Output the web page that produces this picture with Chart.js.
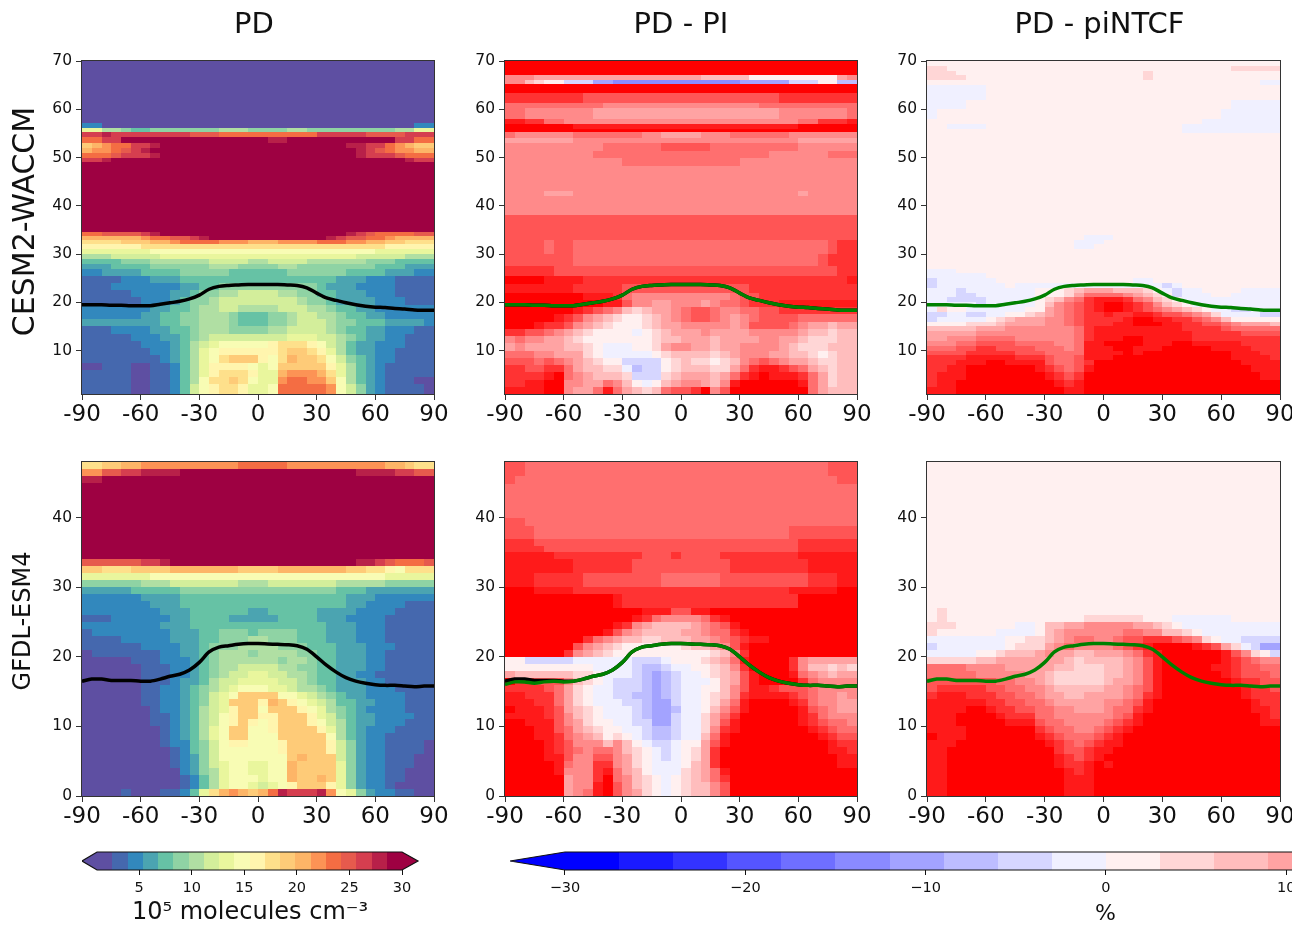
<!DOCTYPE html>
<html>
<head>
<meta charset="utf-8">
<script src="https://cdn.jsdelivr.net/npm/chart.js@4"></script>
<style>
  html, body { margin: 0; background: #fff; width: 1292px; height: 929px; overflow: hidden; position: relative; }
  canvas { position: absolute; filter: blur(0.4px); }
</style>
</head>
<body>
<script>
// latitude cell edges, every panel has 36 cells (5 degrees wide)
const latEdges = [-90,-85,-80,-75,-70,-65,-60,-55,-50,-45,-40,-35,-30,-25,-20,-15,-10,-5,0,5,10,15,20,25,30,35,40,45,50,55,60,65,70,75,80,85,90];
const xTickValues = [-90,-60,-30,0,30,60,90];
const yTicksWaccm = [10,20,30,40,50,60,70];
const yTicksGfdl = [0,10,20,30,40];

// tropopause height (km) on latEdges
const tropWaccm = [19.5,19.5,19.5,19.4,19.4,19.3,19.3,19.3,19.6,19.9,20.2,20.7,21.5,22.7,23.3,23.5,23.6,23.7,23.7,23.7,23.7,23.6,23.5,23,21.9,20.9,20.4,19.9,19.5,19.2,19,18.9,18.7,18.6,18.4,18.35,18.35];
const tropGfdl = [16.5,16.8,16.8,16.6,16.6,16.6,16.5,16.5,16.8,17.2,17.5,18.1,19.2,20.7,21.4,21.6,21.8,21.9,21.9,21.85,21.8,21.75,21.6,21.1,20,18.8,17.8,17,16.5,16.2,16,15.9,15.9,15.8,15.7,15.8,15.8];
const tropGfdlPi = [16,16.4,16.4,16.2,16.4,16.5,16.4,16.5,16.8,17.2,17.5,18.1,19.2,20.7,21.4,21.6,21.8,21.9,21.9,21.85,21.8,21.75,21.6,21.1,20,18.8,17.8,17,16.5,16.2,16,15.9,15.9,15.8,15.7,15.8,15.8];

// colorbar classes
const pdBounds = [1,2.45,3.9,5.35,6.8,8.25,9.7,11.15,12.6,14.05,15.5,16.95,18.4,19.85,21.3,22.75,24.2,25.65,27.1,28.55,30];
const pdColors = ['#5e4fa2','#4568ae','#3288bd','#4ba4b1','#66c2a5','#8fd3a4','#b0dfa3','#d3ee9b','#e9f69d','#f8fcb4','#fff5ae','#fee08b','#fecb78','#fdb567','#fc9355','#f46d43','#e65a4d','#d53e4f','#b82049','#9e0142'];
const pdMids = [2,3,5,6,8,9,10,12,13,15,16,18,19,21,22,24,25,27,28,30];
const pdBarTicks = [5,10,15,20,25,30];
const pctBounds = [-30,-27,-24,-21,-18,-15,-12,-9,-6,-3,0,3,6,9,12,15,18,21,24,27,30];
const pctColors = ['#0000ff','#1a1aff','#3333ff','#5555ff','#6f6fff','#8a8aff','#a3a3ff','#bdbdff','#d6d6ff','#f0f0ff','#fff0f0','#ffd6d6','#ffbdbd','#ffa3a3','#ff8a8a','#ff6f6f','#ff5555','#ff3333','#ff1a1a','#ff0000'];
const pctMids = [-28,-25,-22,-19,-16,-13,-10,-7,-4,-1,1,4,7,10,13,16,19,22,25,28];
const pctBarTicks = [-30,-20,-10,0,10,20,30];

// CESM2-WACCM, PD, 10^5 molecules cm-3, top row first
const waccmPdLevels = [70,57.1,56.2,55.2,54.2,53,52,51,50,49,34.5,33.7,33,32,31,30,29,28,27,25.5,24,22.5,21,19.5,18,16.5,15,13.5,12,10.5,9,7.5,6,4.5,3,1];
const waccmPd = [
[2,2,2,2,2,2,2,2,2,2,2,2, 2,2,2,2,2,2,2,2,2,2,2,2, 2,2,2,2,2,2,2,2,2,2,2,2],
[5,5,2,2,2,2,2,2,2,2,2,2, 2,2,2,2,2,2,2,2,2,2,2,2, 2,2,2,2,2,2,2,2,2,2,5,5],
[13,13,10,10,9,8,8,9,9,9,9,9, 9,9,10,10,10,9,9,9,9,10,10,9, 9,9,9,9,9,9,9,9,10,10,13,13],
[27,27,28,27,27,27,27,27,27,27,27,25, 25,25,24,24,24,24,24,24,24,24,24,24, 27,27,27,27,27,25,25,25,25,27,27,27],
[24,24,27,27,30,30,30,30,30,30,30,30, 30,30,30,30,30,30,30,28,28,30,30,30, 30,30,30,30,30,30,30,30,27,27,24,24],
[19,21,22,24,24,27,27,28,30,30,30,30, 30,30,30,30,30,30,30,30,30,30,30,30, 30,30,30,28,28,27,27,24,22,21,19,19],
[21,22,22,24,25,27,28,30,30,30,30,30, 30,30,30,30,30,30,30,30,30,30,30,30, 30,30,30,30,28,27,25,24,22,22,21,21],
[24,24,24,25,27,27,27,28,30,30,30,30, 30,30,30,30,30,30,30,30,30,30,30,30, 30,30,30,30,28,27,27,27,25,24,24,24],
[27,27,28,30,30,30,30,30,30,30,30,30, 30,30,30,30,30,30,30,30,30,30,30,30, 30,30,30,30,30,30,30,30,30,28,27,27],
[30,30,30,30,30,30,30,30,30,30,30,30, 30,30,30,30,30,30,30,30,30,30,30,30, 30,30,30,30,30,30,30,30,30,30,30,30],
[24,24,25,25,25,25,27,28,30,30,30,30, 30,30,30,30,30,30,30,30,30,30,30,30, 30,30,30,28,27,25,24,24,24,24,25,25],
[21,21,21,21,21,21,22,24,24,25,25,27, 28,30,30,30,30,30,30,30,30,30,30,30, 30,28,27,25,25,24,24,22,21,21,21,21],
[18,18,18,18,19,19,19,21,21,22,24,24, 24,24,22,22,22,21,21,21,22,22,22,22, 24,24,24,22,22,21,21,19,19,18,18,18],
[16,16,16,16,16,16,18,18,18,18,18,18, 18,18,18,18,18,18,18,18,18,18,18,18, 18,18,18,18,18,18,18,16,16,16,16,16],
[13,13,13,13,13,13,13,15,15,15,15,15, 15,15,15,15,15,15,15,15,15,15,15,15, 15,15,15,15,15,15,13,13,13,13,13,13],
[10,10,10,12,12,12,12,12,13,13,13,13, 13,13,13,13,13,13,13,13,13,13,13,13, 13,13,13,13,12,12,12,12,12,10,10,10],
[8,8,8,8,9,9,9,10,10,10,10,10, 10,12,12,12,12,10,10,12,12,12,12,10, 10,10,10,10,10,9,9,9,8,8,8,8],
[6,6,6,8,8,8,8,9,9,9,9,9, 9,10,10,10,9,9,9,9,10,10,9,9, 9,9,9,9,9,9,8,8,8,6,6,6],
[5,5,6,6,6,6,8,8,8,8,9,9, 9,9,9,8,8,8,8,8,8,9,9,9, 9,9,9,8,8,8,8,6,6,6,5,5],
[3,3,3,3,5,5,5,6,6,6,8,8, 8,8,8,8,8,8,8,8,8,8,8,8, 8,8,6,6,6,5,5,5,3,3,3,3],
[3,3,3,5,5,5,5,5,5,5,6,6, 8,8,9,9,9,9,9,9,9,9,9,9, 8,6,6,6,5,5,5,5,3,3,3,3],
[3,3,3,3,3,5,5,5,5,6,6,8, 9,9,10,10,12,12,12,12,10,10,9,9, 8,8,6,6,6,5,5,5,3,3,3,3],
[3,3,3,3,3,3,5,5,5,6,8,9, 9,10,12,12,12,12,12,12,12,12,10,9, 9,8,6,6,6,6,5,5,5,3,3,3],
[5,5,5,5,5,5,5,6,6,8,8,9, 10,10,12,12,10,10,10,10,12,12,12,10, 10,9,8,8,6,6,5,5,5,5,5,5],
[5,5,5,5,5,5,6,6,8,8,9,9, 10,10,10,9,8,8,8,9,9,10,12,12, 10,10,9,8,8,6,6,5,5,5,5,5],
[6,6,6,6,6,6,6,6,8,8,9,9, 10,10,10,9,8,8,8,9,9,10,12,12, 12,10,9,9,8,8,8,6,6,6,6,5],
[3,3,3,5,5,5,5,6,6,8,8,9, 10,10,10,9,9,9,9,10,10,12,12,12, 12,10,9,8,8,6,6,5,5,5,3,3],
[3,3,3,3,3,5,5,5,6,6,8,9, 10,12,12,12,12,12,12,12,12,13,13,13, 12,12,10,9,8,6,6,5,5,3,3,3],
[3,3,3,3,3,3,5,5,5,6,8,10, 12,13,15,15,15,15,15,16,18,18,18,16, 15,12,10,8,6,6,5,5,5,3,3,3],
[3,3,3,3,3,3,3,5,5,6,8,10, 13,15,16,16,16,16,16,16,18,19,19,18, 16,13,10,8,6,6,5,5,3,3,3,3],
[3,3,3,3,3,3,3,3,5,6,8,10, 13,15,18,19,19,19,16,15,18,21,19,19, 18,15,12,9,8,6,5,5,3,3,3,3],
[2,2,3,3,3,2,2,3,3,5,8,10, 13,16,16,16,16,15,13,15,19,19,19,19, 19,16,13,10,8,6,5,3,3,3,3,3],
[3,3,3,3,3,2,2,3,3,5,8,10, 13,16,18,18,18,16,13,13,21,22,22,22, 21,18,13,10,8,6,5,3,3,3,3,3],
[3,3,3,3,3,2,2,3,3,5,8,10, 15,18,18,19,18,15,13,13,22,24,24,22, 22,19,15,10,8,6,5,3,3,3,2,2],
[3,3,3,3,3,2,2,3,3,5,8,12, 15,16,18,18,16,13,13,15,24,24,24,24, 24,22,15,12,9,6,5,3,3,3,3,2]
];

// CESM2-WACCM, PD - PI, percent
const waccmPiLevels = [70,67.2,66,65.2,63.3,61.2,60.2,58,57,56,55.2,54,53,51.3,50,48.2,43,42,38,33,30,27.5,25.4,23.7,22,20.5,19,17.5,16,14.5,13,11.5,10,8.5,7,5.5,4,2.5,1];
const waccmPi = [
[28,28,28,28,28,28,28,28,28,28,28,28, 28,28,28,28,28,28,28,28,28,28,28,28, 28,28,28,28,28,28,28,28,28,28,28,28],
[13,13,13,10,10,10,10,10,10,10,10,10, 10,10,10,10,10,10,10,10,7,7,7,7, 7,1,1,1,1,1,1,1,1,1,10,13],
[13,13,7,4,1,1,-4,-4,-4,-10,-10,-13, -13,-13,-13,-13,-13,-13,-13,-13,-13,-13,-13,-13, -10,-10,-10,-10,-10,-4,-4,-4,1,1,-7,-7],
[28,28,28,28,28,28,28,28,28,28,28,28, 28,28,28,28,28,28,28,28,28,28,28,28, 28,28,28,28,28,28,28,28,28,28,28,28],
[22,22,22,22,22,22,22,22,19,19,19,19, 19,19,19,19,19,19,19,19,19,19,19,19, 19,19,19,19,22,22,22,22,22,22,22,22],
[16,16,16,16,16,16,16,16,16,16,13,13, 13,13,13,13,13,13,13,13,13,13,13,13, 13,13,16,16,16,16,16,16,16,16,16,16],
[16,16,13,13,13,13,13,13,13,10,10,10, 10,10,10,10,10,10,10,10,10,10,10,10, 10,10,10,10,13,13,13,13,13,13,13,16],
[25,25,22,22,16,16,13,13,13,13,13,13, 13,13,13,13,13,13,13,13,13,13,13,13, 13,13,13,13,13,13,16,16,22,22,22,25],
[28,28,28,28,28,28,28,25,25,25,25,25, 25,25,25,25,25,25,25,25,25,25,25,25, 25,25,25,25,25,25,28,28,28,28,28,28],
[28,28,28,28,28,28,28,28,28,28,28,28, 28,28,28,28,28,28,28,28,28,28,28,28, 28,28,28,28,28,28,28,28,28,28,28,28],
[16,13,13,13,13,13,13,16,16,16,16,16, 16,16,13,13,10,10,10,10,13,13,13,16, 16,16,16,16,16,13,13,13,13,13,13,13],
[10,10,10,10,10,10,10,13,13,13,13,13, 13,13,13,13,13,13,13,13,13,13,13,13, 13,13,13,13,13,13,10,10,10,10,10,10],
[13,13,13,13,13,13,13,13,13,13,16,16, 16,16,16,16,19,19,19,19,19,16,16,16, 16,16,16,16,16,16,13,13,13,13,13,13],
[13,13,13,13,13,13,13,13,13,16,16,16, 16,16,16,16,16,16,16,16,16,16,16,16, 16,16,16,13,13,13,13,13,13,16,16,16],
[13,13,13,13,13,13,13,13,13,13,13,13, 16,16,16,16,16,16,16,16,16,16,16,16, 13,13,13,13,13,13,13,13,13,13,13,13],
[13,13,13,13,13,13,13,13,13,13,13,13, 13,13,13,13,13,13,13,13,13,13,13,13, 13,13,13,13,13,13,13,13,13,13,13,13],
[13,13,13,13,10,10,10,13,13,13,13,13, 13,13,13,13,13,13,13,13,13,13,13,13, 13,13,13,13,13,13,10,13,13,13,13,13],
[13,13,13,13,13,13,13,13,13,13,13,13, 13,13,13,13,13,13,13,13,13,13,13,13, 13,13,13,13,13,13,13,13,13,13,13,13],
[19,19,19,19,19,19,19,19,19,19,19,19, 19,19,19,19,19,19,19,19,19,19,19,19, 19,19,19,19,19,19,19,19,19,19,19,19],
[19,19,19,19,16,19,19,16,16,16,16,16, 16,16,16,16,16,16,16,16,16,16,16,16, 16,16,16,16,16,16,16,16,16,19,22,22],
[19,19,19,19,19,19,19,16,16,16,16,16, 16,16,16,16,16,16,16,16,16,16,16,16, 16,16,16,16,16,16,16,16,19,22,22,22],
[22,22,22,22,22,19,19,19,19,19,19,19, 19,19,19,19,19,19,19,19,19,19,19,19, 19,19,19,19,19,19,19,19,19,19,22,22],
[28,28,28,28,25,25,25,25,22,22,22,22, 22,22,22,22,22,22,22,22,22,22,22,22, 22,22,22,22,22,22,22,22,22,22,22,25],
[25,25,25,25,25,25,25,22,22,22,22,22, 19,19,19,19,19,19,19,19,19,19,19,19, 19,22,22,22,22,22,22,22,22,22,22,22],
[28,28,28,28,28,28,28,28,25,25,25,22, 16,13,13,13,13,13,13,13,13,13,13,16, 19,19,22,22,22,22,22,22,22,22,22,22],
[28,28,28,28,28,28,28,28,28,28,25,25, 19,13,13,10,10,13,13,13,10,13,16,16, 19,22,22,22,25,25,25,25,25,25,25,25],
[28,28,28,28,28,28,28,25,22,19,16,13, 7,4,7,10,10,13,16,19,19,16,13,13, 16,16,19,19,22,22,22,22,22,22,22,22],
[28,28,28,28,28,25,22,19,13,10,7,4, 1,1,4,7,10,13,16,19,19,16,13,10, 13,16,19,19,19,19,16,16,16,16,16,16],
[28,28,28,25,22,22,19,13,10,7,4,1, 1,1,4,7,10,10,13,13,13,13,13,10, 13,19,19,19,19,16,13,10,10,7,10,10],
[22,22,19,19,16,13,10,7,4,1,1,1, 1,-1,1,4,7,10,10,10,13,10,10,10, 10,13,13,13,13,13,10,7,7,4,7,7],
[13,16,13,13,10,10,7,4,1,1,1,1, 1,1,1,4,7,7,10,10,10,7,10,10, 10,10,13,13,10,10,7,4,4,4,7,7],
[10,13,10,10,10,10,7,7,4,1,-1,-1, -1,1,1,4,10,13,13,10,10,7,10,10, 13,13,13,13,10,7,4,4,4,7,7,7],
[16,16,16,13,13,10,10,10,4,1,-1,-1, -1,-1,-1,1,4,7,7,7,7,4,7,10, 13,13,13,10,10,7,7,4,1,4,7,7],
[19,19,19,16,19,16,13,10,7,4,1,1, -4,-4,-4,-4,1,4,7,4,4,1,4,7, 13,16,19,16,13,10,10,7,4,4,7,7],
[22,22,19,19,22,22,16,10,7,7,4,4, -1,-7,-4,-4,1,4,7,7,7,4,4,10, 16,22,25,25,22,19,16,10,7,4,7,7],
[22,22,22,22,25,28,16,13,10,7,7,7, 4,-4,-4,-4,4,7,10,10,10,7,10,16, 22,25,28,25,25,25,22,16,10,4,7,7],
[22,22,25,25,28,28,13,13,10,10,16,13, 7,1,-1,1,7,10,13,13,10,7,13,25, 28,28,28,28,28,28,25,16,10,4,7,7],
[25,25,25,25,28,28,13,10,10,16,25,16, 10,7,4,7,16,19,19,22,28,13,19,28, 28,28,28,28,28,28,28,16,10,7,7,7]
];

// CESM2-WACCM, PD - piNTCF, percent
const waccmNtcfLevels = [70,69,68,67,66,65,62,60,58,57,56,55,34,33,32,31,27,26,25,24,23,22,21,20,19,18,17,16,15,14,13,12,11,10,9,8,7,5.5,4,2.5,1];
const waccmNtcf = [
[1,1,1,1,1,1,1,1,1,1,1,1, 1,1,1,1,1,1,1,1,1,1,1,1, 1,1,1,1,1,1,1,1,1,1,1,1],
[4,4,1,1,1,1,1,1,1,1,1,1, 1,1,1,1,1,1,1,1,1,1,1,1, 1,1,1,1,1,1,1,4,4,4,4,4],
[4,4,4,1,1,1,1,1,1,1,1,1, 1,1,1,1,1,1,1,1,1,1,4,1, 1,1,1,1,1,1,1,1,1,1,1,1],
[4,4,4,4,1,1,1,1,1,1,1,1, 1,1,1,1,1,1,1,1,1,1,4,1, 1,1,1,1,1,1,1,1,1,1,1,1],
[1,1,1,1,1,1,1,1,1,1,1,1, 1,1,1,1,1,1,1,1,1,1,1,1, 1,1,1,1,1,1,1,1,1,1,-1,-1],
[-1,-1,-1,-1,-1,-1,1,1,1,1,1,1, 1,1,1,1,1,1,1,1,1,1,1,1, 1,1,1,1,1,1,1,1,1,1,1,1],
[-1,-1,-1,-1,1,1,1,1,1,1,1,1, 1,1,1,1,1,1,1,1,1,1,1,1, 1,1,1,1,1,1,1,-1,-1,-1,-1,-1],
[-1,1,1,1,1,1,1,1,1,1,1,1, 1,1,1,1,1,1,1,1,1,1,1,1, 1,1,1,1,1,1,-1,-1,-1,-1,-1,-1],
[1,1,1,1,1,1,1,1,1,1,1,1, 1,1,1,1,1,1,1,1,1,1,1,1, 1,1,1,1,-1,-1,-1,-1,-1,-1,-1,-1],
[1,1,-1,-1,-1,-1,1,1,1,1,1,1, 1,1,1,1,1,1,1,1,1,1,1,1, 1,1,-1,-1,-1,-1,-1,-1,-1,-1,-1,-1],
[1,1,1,1,1,1,1,1,1,1,1,1, 1,1,1,1,1,1,1,1,1,1,1,1, 1,1,-1,-1,-1,-1,-1,-1,-1,-1,-1,-1],
[1,1,1,1,1,1,1,1,1,1,1,1, 1,1,1,1,1,1,1,1,1,1,1,1, 1,1,1,1,1,1,1,1,1,1,1,1],
[1,1,1,1,1,1,1,1,1,1,1,1, 1,1,1,1,-1,-1,-1,1,1,1,1,1, 1,1,1,1,1,1,1,1,1,1,1,1],
[1,1,1,1,1,1,1,1,1,1,1,1, 1,1,1,-1,-1,-1,1,1,1,1,1,1, 1,1,1,1,1,1,1,1,1,1,1,1],
[1,1,1,1,1,1,1,1,1,1,1,1, 1,1,1,-1,-1,1,1,1,1,1,1,1, 1,1,1,1,1,1,1,1,1,1,1,1],
[1,1,1,1,1,1,1,1,1,1,1,1, 1,1,1,1,1,1,1,1,1,1,1,1, 1,1,1,1,1,1,1,1,1,1,1,1],
[-1,-1,-1,1,1,1,1,1,1,1,1,1, 1,1,1,1,1,1,1,1,1,1,1,1, 1,1,1,1,1,1,1,1,1,1,1,1],
[-1,-1,-1,-1,-1,-1,1,1,1,1,1,1, 1,1,1,1,1,1,1,1,1,1,1,1, 1,1,1,1,1,1,1,1,1,1,1,1],
[-4,-1,-1,-1,-1,-1,-1,1,1,1,1,1, 1,1,1,1,1,1,1,1,1,-1,-1,1, 1,1,1,1,1,1,1,1,1,1,1,1],
[-4,-1,-1,-1,-1,-1,-1,-1,1,-1,-1,-1, -1,-1,-1,-1,-1,-1,-1,-1,-1,-1,-1,-1, -4,-1,1,1,1,1,1,1,1,1,1,1],
[-1,-1,-1,-4,-1,-1,-1,-1,-1,-1,-1,1, 1,1,4,7,10,10,10,7,7,7,4,1, -1,-4,-1,-1,1,1,1,1,-1,-1,-1,-1],
[-1,-1,-1,-4,-4,-1,-1,-1,-1,-1,-1,1, 1,1,4,10,16,16,16,16,13,10,7,4, 1,-4,-1,-1,-1,1,1,-1,-1,-1,-1,-1],
[-1,-1,-4,-4,-4,-4,-1,-1,-1,-1,-1,1, 4,7,13,16,22,25,25,25,22,16,13,7, 4,1,-1,-1,-1,-1,-1,-1,-1,-1,-1,-1],
[-1,-1,-1,-1,-1,-4,-1,-1,-1,-1,-1,1, 7,13,16,19,22,25,28,28,25,22,19,13, 7,4,1,-1,-1,-1,-1,-1,-1,-1,-1,-1],
[-1,4,1,1,-1,-1,-1,-1,-1,-1,1,1, 10,13,16,19,22,25,28,28,25,22,19,16, 13,10,7,4,1,-1,-1,-4,-4,-1,-1,-1],
[-4,-4,-1,-1,-4,-4,-1,-1,1,1,4,7, 10,13,16,19,22,22,25,22,22,25,25,22, 19,19,16,13,10,4,-1,-1,-1,-1,-4,-4],
[-4,-1,-1,-1,-1,-1,1,4,7,10,10,10, 13,13,16,19,22,22,22,22,25,28,28,25, 25,22,22,19,16,13,7,1,1,1,1,1],
[1,1,1,1,4,4,4,7,10,10,10,10, 13,13,16,19,22,22,22,25,25,28,28,28, 25,25,22,22,19,19,16,13,10,10,10,7],
[7,7,7,7,7,10,10,10,13,13,13,13, 13,13,13,16,22,25,25,25,25,25,25,25, 25,25,22,22,22,22,19,16,16,16,16,16],
[10,10,10,10,10,13,13,13,13,13,13,13, 13,13,13,16,22,25,25,25,25,25,25,25, 25,25,25,22,22,22,22,22,19,19,19,19],
[10,10,13,13,13,16,16,16,16,13,13,13, 13,13,13,16,22,25,25,25,28,28,25,25, 25,25,25,22,22,22,22,22,22,22,22,22],
[13,13,13,16,16,19,19,19,19,16,16,16, 16,13,13,16,25,25,28,28,28,28,25,25, 25,28,28,25,25,25,25,25,22,22,22,22],
[16,16,16,19,19,22,22,19,19,19,19,16, 16,16,13,16,25,25,25,28,28,25,25,25, 28,28,28,28,28,25,25,25,25,22,22,22],
[19,19,19,19,22,22,22,22,22,19,19,19, 16,16,16,16,25,25,25,25,28,25,28,28, 28,28,28,28,28,28,28,25,25,25,22,22],
[22,22,22,22,25,25,25,25,25,22,22,22, 19,16,16,19,25,25,25,28,28,28,28,28, 28,28,28,28,28,28,28,25,25,25,25,22],
[22,22,22,25,25,25,28,28,25,25,25,25, 19,16,16,19,22,28,28,28,28,28,28,28, 28,28,28,28,28,28,28,28,25,25,25,25],
[22,22,25,25,28,28,28,28,28,28,28,25, 22,19,16,19,25,28,28,28,28,28,28,28, 28,28,28,28,28,28,28,28,28,25,25,25],
[22,25,25,25,28,28,28,28,28,28,28,28, 25,22,19,22,28,28,28,28,28,28,28,28, 28,28,28,28,28,28,28,28,28,28,25,25],
[22,25,25,28,28,28,28,28,28,28,28,28, 28,25,22,25,28,28,28,28,28,28,28,28, 28,28,28,28,28,28,28,28,28,28,28,28],
[25,25,25,28,28,28,28,28,28,28,28,28, 28,28,25,25,28,28,28,28,28,28,28,28, 28,28,28,28,28,28,28,28,28,28,28,28]
];

// GFDL-ESM4, PD
const gfdlPdLevels = [48,47,46,45,34,33,32,31,30,29,28,27,26,25,24,23,22,21,20,19,18,17,16,15,14,13,12,11,10,9,8,7,6,5,4,3,2,1,0];
const gfdlPd = [
[18,18,19,19,21,21,22,22,22,22,22,22, 22,22,22,22,24,24,24,24,24,22,22,22, 22,22,22,22,22,22,22,21,21,19,18,18],
[22,22,25,25,27,27,28,28,28,28,30,30, 30,30,30,30,30,30,30,30,30,30,30,30, 30,30,30,30,28,28,28,28,27,27,25,25],
[28,28,30,30,30,30,30,30,30,30,30,30, 30,30,30,30,30,30,30,30,30,30,30,30, 30,30,30,30,30,30,30,30,30,30,30,30],
[30,30,30,30,30,30,30,30,30,30,30,30, 30,30,30,30,30,30,30,30,30,30,30,30, 30,30,30,30,30,30,30,30,30,30,30,30],
[25,25,25,25,25,25,27,27,28,30,30,30, 30,30,30,30,30,30,30,30,30,30,30,30, 30,30,30,30,28,28,27,25,24,24,24,25],
[19,19,18,18,18,19,19,19,19,21,21,21, 21,21,21,21,19,19,19,19,21,21,21,21, 21,21,21,19,19,18,18,16,15,18,18,18],
[13,13,13,13,13,13,13,15,15,15,15,15, 15,15,15,15,15,15,15,15,15,15,15,15, 15,15,15,15,15,15,15,13,13,13,13,13],
[9,9,9,9,9,9,10,10,10,12,12,12, 12,12,12,12,10,10,10,12,12,12,12,12, 12,12,10,10,10,10,10,9,9,9,9,9],
[6,6,6,6,6,8,8,8,8,8,9,9, 9,9,9,9,9,9,9,9,9,9,9,9, 9,9,8,8,8,6,6,6,6,6,6,6],
[5,5,5,5,5,5,6,6,6,6,8,8, 8,8,8,8,8,8,8,8,8,8,8,8, 8,8,8,6,6,6,5,5,5,5,5,5],
[5,5,5,5,5,5,5,6,6,6,8,8, 8,8,8,8,8,8,8,8,8,8,8,8, 8,8,8,6,6,5,5,5,5,3,3,3],
[5,5,5,5,5,5,5,5,6,6,6,8, 8,8,8,8,8,6,6,8,8,8,8,8, 6,6,6,6,5,5,5,5,3,3,3,3],
[3,3,3,5,5,5,5,5,5,6,6,8, 8,8,8,6,6,6,6,6,8,8,8,8, 6,6,6,5,5,5,5,3,3,3,3,3],
[5,5,5,5,5,5,5,5,6,6,6,8, 8,8,8,8,8,8,8,8,8,8,8,8, 8,6,6,6,5,5,5,3,3,3,3,3],
[3,5,5,5,5,5,5,5,5,6,6,6, 8,8,9,9,9,8,9,9,9,9,8,8, 8,6,6,6,5,5,5,3,3,3,3,3],
[3,3,3,3,5,5,5,5,5,6,6,6, 8,8,9,9,9,10,10,9,9,9,8,8, 8,6,6,6,5,5,5,3,3,3,3,3],
[3,3,3,3,3,3,5,5,5,5,6,6, 8,9,9,9,10,10,10,10,9,9,9,8, 8,8,6,6,6,5,5,5,3,3,3,3],
[2,3,3,3,3,3,3,3,5,5,6,6, 8,9,10,10,10,9,10,10,10,10,9,9, 8,8,6,6,6,5,5,3,3,3,3,3],
[2,2,2,2,2,3,3,3,5,5,5,6, 8,9,10,10,10,10,10,10,9,10,10,9, 8,8,6,6,6,5,5,3,3,3,3,3],
[2,2,2,2,2,2,3,3,3,5,5,6, 8,9,10,10,12,12,12,12,10,10,9,9, 8,8,6,6,6,5,5,3,3,3,3,3],
[2,2,2,2,2,2,3,3,3,5,5,6, 8,9,10,12,12,13,13,12,12,10,10,9, 8,8,6,6,5,5,3,3,3,3,3,3],
[2,2,2,2,2,2,3,3,3,5,6,6, 8,10,12,12,13,13,13,13,12,12,10,9, 8,8,6,6,6,5,5,3,3,3,3,3],
[2,2,2,2,2,2,3,3,5,5,6,8, 9,10,12,13,15,15,15,13,13,12,10,10, 9,8,6,6,6,5,5,5,3,3,3,3],
[2,2,2,2,2,2,3,3,5,5,6,8, 9,12,13,15,19,19,19,19,15,15,13,12, 10,9,8,6,6,5,5,5,5,3,3,3],
[2,2,2,2,2,2,3,3,5,5,6,8, 9,12,13,19,19,19,16,21,19,16,15,13, 12,10,8,8,6,6,5,5,5,3,3,3],
[2,2,2,2,2,2,2,3,5,5,6,8, 10,12,13,16,19,19,15,19,19,19,16,15, 13,10,9,8,6,5,5,5,5,3,3,3],
[2,2,2,2,2,2,2,3,3,5,6,8, 10,12,15,16,19,19,16,16,19,19,19,16, 13,12,9,8,6,6,5,5,5,5,3,3],
[2,2,2,2,2,2,2,3,3,5,6,8, 10,12,15,16,19,16,15,16,19,19,19,16, 15,12,10,8,6,6,5,5,5,3,3,3],
[2,2,2,2,2,2,2,2,3,5,6,8, 10,13,15,19,19,15,15,16,19,19,19,19, 16,13,10,8,6,5,5,5,3,3,3,3],
[2,2,2,2,2,2,2,2,3,5,6,8, 10,13,15,19,19,15,15,15,19,19,19,19, 19,15,10,8,6,5,5,3,3,3,3,3],
[2,2,2,2,2,2,2,2,3,5,5,8, 9,12,15,16,16,15,15,15,16,19,19,19, 19,16,12,9,6,5,5,3,3,3,3,2],
[2,2,2,2,2,2,2,2,2,3,5,8, 9,12,15,15,15,15,15,15,16,19,19,19, 19,16,12,9,6,5,5,3,3,3,3,2],
[2,2,2,2,2,2,2,2,2,3,5,6, 9,12,15,15,15,15,15,15,15,19,21,19, 19,19,12,9,6,5,5,3,3,3,2,2],
[2,2,2,2,2,2,2,2,2,3,5,6, 9,12,13,15,15,13,13,15,15,21,19,19, 19,19,13,9,6,5,5,3,3,3,2,2],
[2,2,2,2,2,2,2,2,2,2,5,6, 9,10,13,15,15,13,13,15,15,21,19,19, 19,19,13,9,6,5,5,3,3,2,2,2],
[2,2,2,2,2,2,2,2,2,2,3,5, 8,10,13,15,15,15,13,15,15,21,19,19, 21,19,13,9,6,5,5,3,3,2,2,2],
[2,2,2,2,2,2,2,2,2,2,3,5, 8,10,13,15,15,13,12,13,15,16,19,19, 19,16,13,9,6,5,5,3,2,2,2,2],
[2,2,2,2,3,2,2,2,3,3,5,8, 13,18,21,22,21,19,21,24,28,27,27,27, 28,22,15,13,9,6,5,5,3,3,2,2]
];

// GFDL-ESM4, PD - PI, percent
const gfdlPiLevels = [48,46,44.8,40,38.8,37,36,35,34,32,30,29,27,26,25,24,23,22,21,20,19,18,17,16,15,14,13,12,11,10,9,8,7,6,5,4,3,2,1,0];
const gfdlPi = [
[19,19,16,16,16,16,16,16,16,16,16,16, 16,16,16,16,16,16,16,16,16,16,16,16, 16,16,16,16,16,16,16,16,16,19,19,19],
[19,16,16,16,16,16,16,16,16,16,16,16, 16,16,16,16,16,16,16,16,16,16,16,16, 16,16,16,16,16,16,16,16,16,16,19,19],
[16,16,16,16,16,16,16,16,16,16,16,16, 16,16,16,16,16,16,16,16,16,16,16,16, 16,16,16,16,16,16,16,16,16,16,16,16],
[19,19,16,16,16,16,16,16,16,16,16,16, 16,16,16,16,16,16,16,16,16,16,16,16, 16,16,16,16,16,16,16,16,16,16,16,16],
[19,19,19,16,16,16,16,16,16,16,16,16, 16,16,16,16,16,16,16,16,16,16,16,16, 16,16,16,16,16,19,19,19,19,19,19,19],
[22,22,22,19,19,19,19,19,19,19,19,19, 19,19,19,19,19,19,19,19,19,19,19,19, 19,19,19,19,19,19,22,22,22,22,22,22],
[22,22,22,22,19,19,19,19,19,19,19,19, 19,19,19,19,19,19,19,19,19,19,19,19, 19,19,19,19,19,19,22,22,22,22,22,22],
[25,25,25,25,25,22,22,22,22,22,22,22, 22,22,19,19,19,22,19,19,19,19,22,22, 22,22,22,22,22,22,25,25,25,25,25,25],
[25,25,25,25,25,25,25,22,22,22,22,22, 22,19,19,19,19,19,19,19,19,19,19,22, 22,22,22,22,22,22,22,25,25,25,25,25],
[25,25,25,22,22,22,22,22,19,19,19,19, 19,19,19,19,16,16,16,16,16,16,19,19, 19,19,19,19,19,19,19,22,22,22,25,25],
[28,28,28,25,25,25,25,22,22,22,22,22, 22,22,22,22,22,22,22,22,22,22,22,22, 22,22,22,22,22,25,25,25,25,25,28,28],
[28,28,28,28,28,28,28,28,28,28,28,25, 22,22,22,22,22,22,22,22,22,22,22,22, 22,22,22,22,22,22,28,28,28,28,28,28],
[28,28,28,28,28,28,28,28,28,28,28,28, 28,28,25,25,25,19,19,25,25,28,28,28, 28,28,28,28,28,28,28,28,28,28,28,28],
[28,28,28,28,28,28,28,28,28,28,28,28, 28,25,22,16,13,13,13,13,16,22,25,28, 28,28,28,28,28,28,28,28,28,28,28,28],
[28,28,28,28,28,28,28,28,28,28,28,25, 22,13,10,7,7,7,7,10,13,16,19,25, 28,28,28,28,28,28,28,28,28,28,28,28],
[28,28,28,28,28,28,28,28,28,28,25,19, 13,10,7,7,7,7,10,10,13,16,16,22, 25,28,28,28,28,28,28,28,28,28,28,28],
[28,28,28,28,28,28,28,28,22,16,13,10, 7,7,4,4,7,7,7,10,10,13,16,19, 22,25,25,28,28,28,28,28,28,28,28,28],
[28,28,28,28,28,28,28,19,13,10,7,4, 1,1,1,1,1,1,4,7,7,10,13,19, 25,28,28,28,28,28,28,28,28,28,28,28],
[28,28,28,28,28,28,22,13,10,7,4,1, 1,1,1,1,1,1,1,1,1,4,7,13, 22,28,28,28,28,28,28,28,28,28,28,28],
[1,1,-4,-4,-4,-4,-4,-1,-1,-1,-1,-1, -1,-4,-4,-4,-1,1,1,1,4,7,10,16, 25,28,28,28,28,22,13,10,10,10,10,10],
[1,1,1,1,1,1,1,1,1,-1,-1,-1, -1,-4,-7,-7,-4,-1,-1,1,1,4,7,13, 22,28,28,28,28,22,13,7,7,4,7,4],
[10,7,7,7,7,7,7,4,4,1,-1,-1, -1,-4,-7,-10,-7,-4,-1,-1,1,4,7,10, 19,25,28,28,28,25,16,13,10,7,10,10],
[28,22,22,19,19,19,13,7,4,1,-1,-4, -4,-4,-7,-10,-7,-4,-1,-1,-1,1,7,10, 19,25,28,28,28,28,22,16,13,13,13,13],
[22,22,22,22,19,16,10,4,1,-1,-1,-4, -4,-4,-7,-10,-7,-4,-1,-1,1,1,7,13, 19,25,25,22,19,19,19,16,13,13,13,13],
[25,25,22,22,22,16,10,4,1,-1,-1,-4, -4,-7,-7,-10,-7,-4,-1,-1,1,4,7,13, 22,25,25,25,25,22,19,16,13,13,10,13],
[25,25,25,22,22,16,10,4,1,-1,-1,-1, -4,-4,-7,-10,-10,-4,-1,-1,1,4,10,16, 25,28,28,28,28,25,22,16,13,13,10,10],
[28,25,25,25,22,19,10,7,4,1,-1,-1, -1,-4,-7,-10,-10,-7,-1,-1,1,7,13,19, 25,28,28,28,28,28,25,19,16,13,10,10],
[25,25,25,25,22,19,13,7,4,1,-1,-1, -1,-4,-7,-10,-10,-4,-1,-1,4,10,16,22, 28,28,28,28,28,28,25,22,16,13,13,13],
[28,28,25,25,25,19,13,10,4,1,1,-1, -1,-4,-4,-10,-10,-4,-1,-1,4,10,19,25, 28,28,28,28,28,28,25,22,19,16,16,13],
[28,28,28,25,25,19,16,10,7,4,1,1, -1,-1,-4,-7,-7,-4,-1,-1,4,13,22,25, 28,28,28,28,28,28,28,25,22,19,16,16],
[28,28,28,25,25,22,16,13,10,7,1,4, 1,-1,-4,-7,-7,-4,-1,-1,7,16,25,28, 28,28,28,28,28,28,28,28,25,22,19,19],
[28,28,28,28,25,22,19,13,13,13,7,13, 7,1,-1,-4,-4,-1,1,1,10,19,25,28, 28,28,28,28,28,28,28,28,28,25,22,22],
[28,28,28,28,25,22,19,16,13,16,16,13, 7,4,1,-1,-4,-1,1,4,10,22,28,28, 28,28,28,28,28,28,28,28,28,25,25,22],
[28,28,28,28,25,25,19,13,13,19,19,13, 10,4,1,-1,-4,-1,1,4,10,22,28,28, 28,28,28,28,28,28,28,28,28,28,25,25],
[28,28,28,28,28,25,16,13,13,22,22,13, 10,4,1,-1,-1,-1,1,7,10,22,28,28, 28,28,28,28,28,28,28,28,28,28,25,25],
[28,28,28,28,28,25,13,13,13,22,25,16, 10,7,1,-1,-1,-1,4,7,10,16,25,28, 28,28,28,28,28,28,28,28,28,28,28,28],
[28,28,28,28,28,28,10,13,13,22,28,16, 13,7,4,1,-1,1,4,7,10,16,22,28, 28,28,28,28,28,28,28,28,28,28,28,28],
[28,28,28,28,28,28,10,13,13,25,28,19, 13,7,4,1,-1,1,4,7,7,13,19,28, 28,28,28,28,28,28,28,28,28,28,28,28],
[28,28,28,28,28,28,10,13,16,25,28,19, 13,10,4,1,-1,1,4,7,7,13,19,28, 28,28,28,28,28,28,28,28,28,28,28,28]
];

// GFDL-ESM4, PD - piNTCF, percent
const gfdlNtcfLevels = [48,27,26,25,24,23,22,21,20,19,18,17,16,15,14,13,12,11,10,9,8,7,6,5,4,3,0];
const gfdlNtcf = [
[1,1,1,1,1,1,1,1,1,1,1,1, 1,1,1,1,1,1,1,1,1,1,1,1, 1,1,1,1,1,1,1,1,1,1,1,1],
[1,4,1,1,1,1,1,1,1,1,1,1, 1,1,1,1,1,1,1,1,1,1,1,1, 1,1,1,1,1,1,1,1,1,1,1,1],
[1,4,1,1,1,1,1,1,1,1,1,1, 1,1,1,1,4,4,4,4,4,4,1,1, 1,-1,-1,-1,-1,-1,-1,1,1,1,1,1],
[4,4,4,1,1,1,1,1,1,-1,-1,1, 7,7,10,10,13,13,13,13,13,10,10,7, 4,1,-1,-1,-1,-1,-1,-1,-1,-1,-1,-1],
[4,1,1,1,1,1,1,-1,-1,-1,-1,1, 7,10,13,13,13,13,13,13,16,16,13,13, 7,7,4,1,-1,-1,-1,-1,-1,-1,-1,-1],
[-1,-1,-1,-1,-1,-1,-1,-1,1,1,4,4, 7,10,13,16,16,13,13,16,19,19,22,22, 22,19,16,13,4,1,-1,-1,-4,-4,-4,-4],
[-4,-1,-1,-1,-1,-1,-1,-1,1,4,4,4, 10,13,16,13,13,13,13,16,19,22,25,28, 28,28,28,25,22,19,10,4,-1,-4,-10,-10],
[-1,-1,-1,-1,-1,1,1,4,7,7,7,10, 13,10,10,7,7,10,10,10,13,16,22,25, 28,28,28,28,28,28,25,19,13,4,1,-4],
[4,4,4,4,4,7,7,10,10,10,10,10, 10,10,7,4,7,7,7,7,10,13,19,25, 28,28,28,28,28,28,25,22,19,16,13,13],
[16,16,16,16,13,13,13,13,10,10,10,10, 10,7,7,4,4,4,7,7,10,13,19,25, 28,28,28,28,28,25,25,22,19,19,16,16],
[16,16,16,16,16,13,13,13,13,13,10,10, 7,4,4,4,4,4,7,7,10,13,19,25, 28,28,28,28,28,28,25,22,19,19,19,16],
[19,19,19,19,19,19,19,16,16,13,13,10, 7,4,4,4,4,4,7,10,10,13,19,25, 28,28,28,28,28,28,28,25,22,22,19,19],
[19,22,22,22,22,22,19,19,16,16,13,13, 10,7,7,7,7,7,10,10,13,16,19,25, 28,28,28,28,28,28,28,28,25,22,22,19],
[22,25,25,25,22,22,22,19,19,16,16,13, 10,10,7,7,10,10,10,10,13,16,22,25, 28,28,28,28,28,28,28,28,25,22,22,22],
[25,25,25,25,25,25,22,22,19,19,16,16, 13,10,10,10,10,10,13,13,16,19,25,28, 28,28,28,28,28,28,28,28,28,25,22,22],
[25,25,25,25,28,28,25,22,22,19,19,16, 16,13,13,10,10,10,13,16,16,22,25,28, 28,28,28,28,28,28,28,28,28,25,25,22],
[25,25,25,28,28,28,28,25,22,22,22,16, 16,13,13,13,13,13,13,16,19,25,28,28, 28,28,28,28,28,28,28,28,28,28,25,22],
[25,25,25,28,28,28,28,28,25,25,25,19, 16,16,13,13,13,13,16,19,22,25,28,28, 28,28,28,28,28,28,28,28,28,28,25,25],
[25,25,25,25,28,28,28,28,28,28,28,22, 19,16,16,13,13,16,19,22,25,28,28,28, 28,28,28,28,28,28,28,28,28,28,28,28],
[28,25,25,25,28,28,28,28,28,28,28,25, 22,19,16,16,16,19,22,25,28,28,28,28, 28,28,28,28,28,28,28,28,28,28,28,28],
[25,25,25,28,28,28,28,28,28,28,28,28, 25,22,19,16,19,22,25,25,28,28,28,28, 28,28,28,28,28,28,28,28,28,28,28,28],
[25,25,28,28,28,28,28,28,28,28,28,28, 28,22,19,19,22,25,25,28,28,28,28,28, 28,28,28,28,28,28,28,28,28,28,28,28],
[25,25,28,28,28,28,28,28,28,28,28,28, 28,25,22,19,22,25,28,28,28,28,28,28, 28,28,28,28,28,28,28,28,28,28,28,28],
[25,25,28,28,28,28,28,28,28,28,28,28, 28,25,22,22,25,28,25,28,28,28,28,28, 28,28,28,28,28,28,28,28,28,28,28,28],
[25,25,28,28,28,28,28,28,28,28,28,28, 28,28,25,22,25,28,28,28,28,28,28,28, 28,28,28,28,28,28,28,28,28,28,28,28],
[25,25,28,28,28,28,28,28,28,28,28,28, 28,28,25,25,25,28,28,28,28,28,28,28, 28,28,28,28,28,28,28,28,28,28,28,28]
];

const FONT = '"DejaVu Sans", sans-serif';
const INK = '#111';

Chart.defaults.font.family = FONT;
Chart.defaults.animation = false;

function classColor(value, bounds, colors) {
    let i = 0;
    while (i < colors.length - 1 && value >= bounds[i + 1]) i++;
    return colors[i];
}

// paints the cells through the chart's own scales
function cellPlugin(xEdges, yEdges, rows, bounds, colors) {
    return {
        id: 'cells',
        beforeDatasetsDraw(chart) {
            const { ctx, scales } = chart;
            rows.forEach((row, r) => {
                const y0 = Math.round(scales.y.getPixelForValue(yEdges[r]));
                const y1 = Math.round(scales.y.getPixelForValue(yEdges[r + 1]));
                row.forEach((value, c) => {
                    const x0 = Math.round(scales.x.getPixelForValue(xEdges[c]));
                    const x1 = Math.round(scales.x.getPixelForValue(xEdges[c + 1]));
                    ctx.fillStyle = classColor(value, bounds, colors);
                    ctx.fillRect(x0, y0, x1 - x0, y1 - y0);
                });
            });
        }
    };
}

const framePlugin = {
    id: 'frame',
    afterDatasetsDraw(chart) {
        const { ctx, chartArea: a } = chart;
        ctx.save();
        ctx.strokeStyle = '#333';
        ctx.lineWidth = 1;
        ctx.strokeRect(a.left - 0.5, a.top - 0.5, a.width + 1, a.height + 1);
        ctx.restore();
    }
};

function rowLabelPlugin(text, size, x, shift) {
    return {
        id: 'rowLabel',
        afterDraw(chart) {
            const { ctx, chartArea: a } = chart;
            ctx.save();
            ctx.translate(x, (a.top + a.bottom) / 2 + shift);
            ctx.rotate(-Math.PI / 2);
            ctx.fillStyle = INK;
            ctx.font = size + 'px ' + FONT;
            ctx.textAlign = 'center';
            ctx.textBaseline = 'middle';
            ctx.fillText(text, 0, 0);
            ctx.restore();
        }
    };
}

function columnTitlePlugin(text, shift) {
    return {
        id: 'columnTitle',
        afterDraw(chart) {
            const { ctx, chartArea: a } = chart;
            ctx.save();
            ctx.fillStyle = INK;
            ctx.font = '29px ' + FONT;
            ctx.textAlign = 'center';
            ctx.textBaseline = 'middle';
            ctx.fillText(text, (a.left + a.right) / 2 + shift, 25);
            ctx.restore();
        }
    };
}

function addCanvas(left, top, width, height) {
    const canvas = document.createElement('canvas');
    canvas.width = width;
    canvas.height = height;
    canvas.style.left = left + 'px';
    canvas.style.top = top + 'px';
    canvas.style.width = width + 'px';
    canvas.style.height = height + 'px';
    document.body.appendChild(canvas);
    return canvas;
}

const columns = [
    { left: 0, width: 508, axis: 82, right: 74, titleShift: -4 },
    { left: 445, width: 472, axis: 60, right: 60, titleShift: 0 },
    { left: 867, width: 464, axis: 60, right: 51, titleShift: -4 }
];

function panel(col, row, p) {
    const c = columns[col];
    const isTop = row === 0;
    const height = isTop ? 440 : 402;
    const tropLines = p.lines.map(l => ({
        type: 'scatter',
        showLine: true,
        data: latEdges.map((lat, i) => ({ x: lat, y: l.values[i] })),
        borderColor: l.color,
        borderWidth: 3.5,
        pointRadius: 0,
        tension: 0.3
    }));
    const plugins = [cellPlugin(latEdges, p.levels, p.rows, p.bounds, p.colors), framePlugin];
    if (p.label) plugins.push(rowLabelPlugin(p.label, p.labelSize, p.labelX, p.labelShift));
    if (p.title) plugins.push(columnTitlePlugin(p.title, c.titleShift));
    new Chart(addCanvas(c.left, isTop ? 0 : 440, c.width, height), {
        type: 'scatter',
        data: { datasets: tropLines },
        plugins: plugins,
        options: {
            responsive: false,
            layout: { padding: { top: isTop ? 61 : 22, right: c.right, left: 0, bottom: 0 } },
            plugins: {
                legend: { display: false },
                tooltip: { enabled: false }
            },
            scales: {
                x: {
                    type: 'linear',
                    min: -90,
                    max: 90,
                    afterBuildTicks: s => { s.ticks = xTickValues.map(v => ({ value: v })); },
                    afterFit: s => { s.height = 46; },
                    ticks: { color: INK, font: { size: 23 }, padding: 1, maxRotation: 0, autoSkip: false, callback: v => String(v) },
                    grid: { drawOnChartArea: false, tickLength: 6, color: '#333' },
                    border: { display: false }
                },
                y: {
                    type: 'linear',
                    min: p.levels[p.levels.length - 1],
                    max: p.levels[0],
                    afterBuildTicks: s => { s.ticks = p.yTicks.map(v => ({ value: v })); },
                    afterFit: s => { s.width = c.axis; },
                    ticks: { color: INK, font: { size: 15.5 }, padding: 4, autoSkip: false, callback: v => String(v) },
                    grid: { drawOnChartArea: false, tickLength: 6, color: '#333' },
                    border: { display: false }
                }
            }
        }
    });
}

// colorbar is one row of cells with pointed ends taken from the scale limits
function colorbarEnds(bounds, colors, tipMin, tipMax) {
    return {
        id: 'barEnds',
        afterDatasetsDraw(chart) {
            const { ctx, scales, chartArea: a } = chart;
            const mid = (a.top + a.bottom) / 2;
            const lo = scales.x.getPixelForValue(bounds[0]);
            const hi = scales.x.getPixelForValue(bounds[bounds.length - 1]);
            const tipL = scales.x.getPixelForValue(tipMin);
            const tipR = scales.x.getPixelForValue(tipMax);
            ctx.save();
            ctx.fillStyle = colors[0];
            ctx.beginPath(); ctx.moveTo(tipL, mid); ctx.lineTo(lo, a.top); ctx.lineTo(lo, a.bottom); ctx.closePath(); ctx.fill();
            ctx.fillStyle = colors[colors.length - 1];
            ctx.beginPath(); ctx.moveTo(tipR, mid); ctx.lineTo(hi, a.top); ctx.lineTo(hi, a.bottom); ctx.closePath(); ctx.fill();
            ctx.strokeStyle = '#111';
            ctx.lineWidth = 1.2;
            ctx.beginPath();
            ctx.moveTo(tipL, mid); ctx.lineTo(lo, a.top); ctx.lineTo(hi, a.top); ctx.lineTo(tipR, mid);
            ctx.lineTo(hi, a.bottom); ctx.lineTo(lo, a.bottom); ctx.closePath();
            ctx.stroke();
            ctx.restore();
        }
    };
}

function colorbar(left, width, rightPad, o) {
    new Chart(addCanvas(left, 842, width + rightPad, 87), {
        type: 'scatter',
        data: { datasets: [] },
        plugins: [cellPlugin(o.bounds, [1, 0], [o.mids], o.bounds, o.colors), colorbarEnds(o.bounds, o.colors, o.tipMin, o.tipMax)],
        options: {
            responsive: false,
            layout: { padding: { top: 10, right: rightPad, left: 0, bottom: 0 } },
            plugins: { legend: { display: false }, tooltip: { enabled: false } },
            scales: {
                x: {
                    type: 'linear',
                    min: o.tipMin,
                    max: o.tipMax,
                    afterBuildTicks: s => { s.ticks = o.ticks.map(v => ({ value: v })); },
                    afterFit: s => { s.height = 59; },
                    ticks: { color: INK, font: { size: 14.5 }, padding: 5, maxRotation: 0, autoSkip: false, callback: v => String(v).replace('-', '\u2212') },
                    grid: { drawOnChartArea: false, tickLength: 5, color: '#111' },
                    border: { display: false },
                    title: { display: true, text: o.title, color: INK, font: { size: o.titleSize }, padding: { top: 0, bottom: 2 } }
                },
                y: { type: 'linear', min: 0, max: 1, display: false }
            }
        }
    });
}

const pd = { bounds: pdBounds, colors: pdColors };
const pct = { bounds: pctBounds, colors: pctColors };
const black = v => ({ values: v, color: '#000' });
const green = v => ({ values: v, color: '#008000' });

panel(0, 0, { ...pd, title: 'PD', levels: waccmPdLevels, rows: waccmPd, yTicks: yTicksWaccm, lines: [black(tropWaccm)], label: 'CESM2-WACCM', labelSize: 30, labelX: 26, labelShift: -6 });
panel(1, 0, { ...pct, title: 'PD - PI', levels: waccmPiLevels, rows: waccmPi, yTicks: yTicksWaccm, lines: [green(tropWaccm), black(tropWaccm)] });
panel(2, 0, { ...pct, title: 'PD - piNTCF', levels: waccmNtcfLevels, rows: waccmNtcf, yTicks: yTicksWaccm, lines: [green(tropWaccm)] });
panel(0, 1, { ...pd, levels: gfdlPdLevels, rows: gfdlPd, yTicks: yTicksGfdl, lines: [black(tropGfdl)], label: 'GFDL-ESM4', labelSize: 24, labelX: 24, labelShift: -8 });
panel(1, 1, { ...pct, levels: gfdlPiLevels, rows: gfdlPi, yTicks: yTicksGfdl, lines: [green(tropGfdlPi), black(tropGfdl)] });
panel(2, 1, { ...pct, levels: gfdlNtcfLevels, rows: gfdlNtcf, yTicks: yTicksGfdl, lines: [green(tropGfdl)] });

colorbar(82, 336, 20, { ...pd, mids: pdMids, ticks: pdBarTicks, tipMin: -0.43, tipMax: 31.52, title: '10\u2075 molecules cm\u207B\u00B3', titleSize: 24 });
colorbar(510, 1191, 0, { ...pct, mids: pctMids, ticks: pctBarTicks, tipMin: -33.05, tipMax: 33, title: '%', titleSize: 22 });
</script>
</body>
</html>
